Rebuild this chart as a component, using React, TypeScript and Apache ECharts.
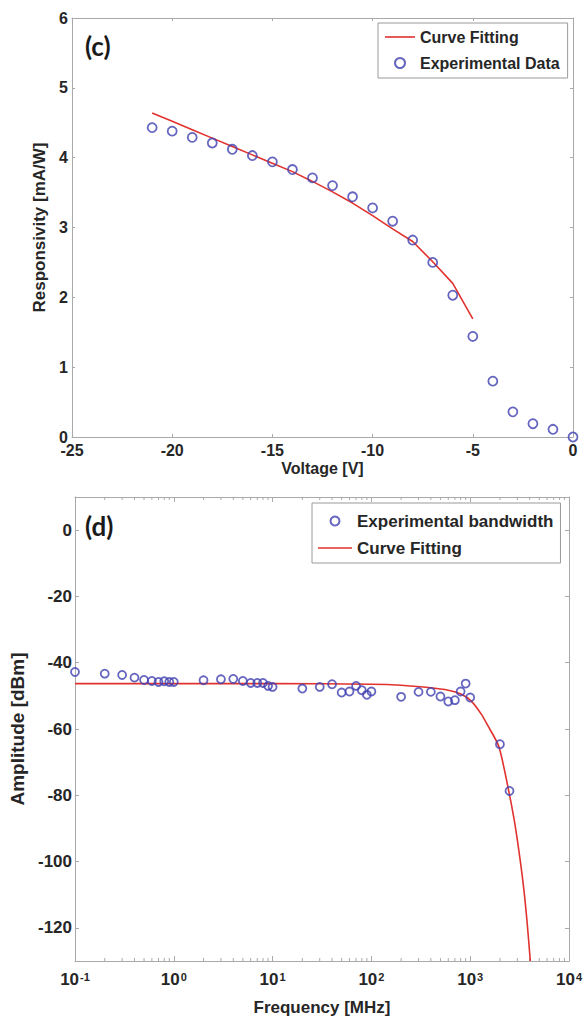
import React, { useEffect, useRef } from "react";
import * as echarts from "echarts";

// ---- Panel (c): responsivity vs voltage ----
const voltage = [-21, -20, -19, -18, -17, -16, -15, -14, -13, -12, -11, -10, -9, -8, -7, -6, -5, -4, -3, -2, -1, 0];
const responsivity = [4.43, 4.38, 4.29, 4.21, 4.12, 4.03, 3.94, 3.83, 3.71, 3.6, 3.44, 3.28, 3.09, 2.82, 2.5, 2.03, 1.44, 0.8, 0.36, 0.19, 0.11, 0.0];
const fitVoltage = [-21, -20, -19, -18, -17, -16, -15, -14, -13, -12, -11, -10, -9, -8, -7, -6, -5];
const fitResponsivity = [4.64, 4.52, 4.4, 4.28, 4.16, 4.04, 3.92, 3.8, 3.66, 3.51, 3.35, 3.17, 2.98, 2.8, 2.51, 2.2, 1.69];

// ---- Panel (d): amplitude vs frequency ----
const frequency = [0.1, 0.2, 0.3, 0.4, 0.5, 0.6, 0.7, 0.8, 0.9, 1, 2, 3, 4, 5, 6, 7, 8, 9, 10, 20, 30, 40, 50, 60, 70, 80, 90, 100, 200, 300, 400, 500, 600, 700, 800, 900, 1000, 2000, 2500];
const amplitude = [-42.8, -43.3, -43.7, -44.5, -45.2, -45.5, -45.8, -45.6, -45.8, -45.8, -45.3, -45.0, -44.9, -45.5, -46.1, -46.1, -46.1, -47.0, -47.3, -47.8, -47.3, -46.5, -49.0, -48.7, -47.0, -48.3, -49.7, -48.7, -50.3, -48.8, -48.8, -50.2, -51.7, -51.3, -48.7, -46.3, -50.5, -64.6, -78.7];
const fitFrequency = [0.1, 1, 10, 100, 200, 376, 600, 813, 1020, 1295, 1510, 1950, 2460, 2806, 3150, 3480, 3760, 4060];
const fitAmplitude = [-46.3, -46.3, -46.3, -46.5, -46.8, -47.5, -48.3, -49.5, -51.5, -55.5, -59.0, -65.3, -78.8, -87.9, -97.9, -108, -118, -130];

// axis tick labels
const ampTicks = [-120, -100, -80, -60, -40, -20, 0];
const freqDecades = [0.1, 1, 10, 100, 1000, 10000];
const freqMinorTicks = [0.2, 0.3, 0.4, 0.5, 0.6, 0.7, 0.8, 0.9, 2, 3, 4, 5, 6, 7, 8, 9, 20, 30, 40, 50, 60, 70, 80, 90, 200, 300, 400, 500, 600, 700, 800, 900, 2000, 3000, 4000, 5000, 6000, 7000, 8000, 9000];

const AXIS_GRAY = "#a9a9a9";
const TEXT = "#262626";
const RED = "#e0322e";
const BLUE = "#4040b0";
const FONT = "Liberation Sans";

export default function App() {
  const ref = useRef<HTMLDivElement>(null);

  useEffect(() => {
    document.body.style.margin = "0";
    if (!ref.current) return;
    const chart = echarts.init(ref.current, undefined, { renderer: "svg" });

    const tickStyle = { lineStyle: { color: AXIS_GRAY, width: 1 } };
    const lineStyle = { lineStyle: { color: AXIS_GRAY, width: 1 } };
    const labelBase = { fontFamily: FONT, fontWeight: "bold" as const, color: TEXT };

    const option: any = {
      animation: false,
      backgroundColor: "#ffffff",
      textStyle: { fontFamily: FONT },
      grid: [
        { left: 72, top: 18, right: 12, bottom: 584, containLabel: false },
        { left: 75, top: 497, right: 13, bottom: 60, containLabel: false },
      ],
      xAxis: [
        {
          type: "value", gridIndex: 0, position: "bottom", min: -25, max: 0, interval: 5,
          axisLine: { show: true, onZero: false, ...lineStyle },
          axisTick: { show: true, inside: true, length: 3, ...tickStyle },
          axisLabel: { ...labelBase, fontSize: 16, margin: 5 },
          splitLine: { show: false },
          name: "Voltage [V]", nameLocation: "middle", nameGap: 23,
          nameTextStyle: { ...labelBase, fontSize: 16 },
        },
        {
          type: "value", gridIndex: 0, position: "top", min: -25, max: 0, interval: 5,
          axisLine: { show: true, onZero: false, ...lineStyle },
          axisTick: { show: true, inside: true, length: 3, ...tickStyle },
          axisLabel: { show: false },
          splitLine: { show: false },
        },
        {
          type: "log", logBase: 10, gridIndex: 1, position: "bottom", min: 0.1, max: 10000,
          axisLine: { show: true, onZero: false, ...lineStyle },
          axisTick: { show: true, inside: true, length: 5, customValues: freqDecades, ...tickStyle },
          axisLabel: {
            ...labelBase, fontSize: 17, margin: 10, customValues: freqDecades,
            formatter: (v: number) => `10{sup|${Math.round(Math.log10(v))}}`,
            rich: { sup: { ...labelBase, fontSize: 11, verticalAlign: "top", lineHeight: 11, padding: [0, 0, 16, 1] } },
          },
          splitLine: { show: false },
          minorTick: { show: false },
          name: "Frequency [MHz]", nameLocation: "middle", nameGap: 36,
          nameTextStyle: { ...labelBase, fontSize: 17 },
        },
        {
          type: "log", logBase: 10, gridIndex: 1, position: "top", min: 0.1, max: 10000,
          axisLine: { show: true, onZero: false, ...lineStyle },
          axisTick: { show: true, inside: true, length: 5, customValues: freqDecades, ...tickStyle },
          axisLabel: { show: false },
          splitLine: { show: false },
        },
      ],
      yAxis: [
        {
          type: "value", gridIndex: 0, position: "left", min: 0, max: 6, interval: 1,
          axisLine: { show: true, onZero: false, ...lineStyle },
          axisTick: { show: true, inside: true, length: 3, ...tickStyle },
          axisLabel: { ...labelBase, fontSize: 16, margin: 4 },
          splitLine: { show: false },
          name: "Responsivity [mA/W]", nameLocation: "middle", nameGap: 23,
          nameTextStyle: { ...labelBase, fontSize: 17 },
        },
        {
          type: "value", gridIndex: 0, position: "right", min: 0, max: 6, interval: 1,
          axisLine: { show: true, onZero: false, ...lineStyle },
          axisTick: { show: true, inside: true, length: 3, ...tickStyle },
          axisLabel: { show: false },
          splitLine: { show: false },
        },
        {
          type: "value", gridIndex: 1, position: "left", min: -130, max: 10,
          axisLine: { show: true, onZero: false, ...lineStyle },
          axisTick: { show: true, inside: true, length: 4, customValues: ampTicks, ...tickStyle },
          axisLabel: { ...labelBase, fontSize: 17, margin: 3, customValues: ampTicks },
          splitLine: { show: false },
          name: "Amplitude [dBm]", nameLocation: "middle", nameGap: 42,
          nameTextStyle: { ...labelBase, fontSize: 19 },
        },
        {
          type: "value", gridIndex: 1, position: "right", min: -130, max: 10,
          axisLine: { show: true, onZero: false, ...lineStyle },
          axisTick: { show: true, inside: true, length: 4, customValues: ampTicks, ...tickStyle },
          axisLabel: { show: false },
          splitLine: { show: false },
        },
      ],
      legend: [
        {
          data: [
            { name: "Curve Fitting", icon: "path://M0,0H30V1.6H0Z" },
            { name: "Experimental Data" },
          ],
          orient: "vertical", left: 378, top: 23,
          padding: [6, 8, 7, 7], itemGap: 10, itemWidth: 30, itemHeight: 10,
          borderColor: "#9a9a9a", borderWidth: 1, backgroundColor: "#fff",
          selectedMode: false,
          textStyle: { ...labelBase, fontSize: 16, lineHeight: 16 },
        },
        {
          data: [
            { name: "Experimental bandwidth" },
            { name: "Curve Fitting (d)", icon: "path://M0,0H34V1.6H0Z" },
          ],
          orient: "vertical", left: 312, top: 503,
          padding: [9, 7, 6, 6], itemGap: 9, itemWidth: 34, itemHeight: 9,
          borderColor: "#9a9a9a", borderWidth: 1, backgroundColor: "#fff",
          selectedMode: false,
          formatter: (n: string) => n.replace(" (d)", ""),
          textStyle: { ...labelBase, fontSize: 17, lineHeight: 18 },
        },
      ],
      graphic: [
        { type: "text", left: 85, top: 33, style: { text: "(c)", fontFamily: "Lato", fontWeight: "bold", fontSize: 26, fill: "#1a1a1a" } },
        { type: "text", left: 85, top: 513, style: { text: "(d)", fontFamily: "Lato", fontWeight: "bold", fontSize: 26, fill: "#1a1a1a" } },
      ],
      series: [
        {
          name: "Curve Fitting", type: "line", xAxisIndex: 0, yAxisIndex: 0,
          data: fitVoltage.map((v, i) => [v, fitResponsivity[i]]),
          symbol: "none", lineStyle: { color: RED, width: 1.6 }, itemStyle: { color: RED }, z: 3,
        },
        {
          name: "Experimental Data", type: "scatter", xAxisIndex: 0, yAxisIndex: 0,
          data: voltage.map((v, i) => [v, responsivity[i]]),
          symbol: "circle", symbolSize: 9,
          itemStyle: { color: "rgba(0,0,0,0)", borderColor: BLUE, borderWidth: 1.8 }, z: 4,
        },
        {
          name: "Curve Fitting (d)", type: "line", xAxisIndex: 2, yAxisIndex: 2,
          data: fitFrequency.map((f, i) => [f, fitAmplitude[i]]),
          symbol: "none", smooth: 0.25,
          lineStyle: { color: RED, width: 1.6 }, itemStyle: { color: RED }, z: 3,
        },
        {
          name: "Experimental bandwidth", type: "scatter", xAxisIndex: 2, yAxisIndex: 2,
          data: frequency.map((f, i) => [f, amplitude[i]]),
          symbol: "circle", symbolSize: 8,
          itemStyle: { color: "rgba(0,0,0,0)", borderColor: BLUE, borderWidth: 1.8 }, z: 4,
        },
        {
          type: "custom", xAxisIndex: 2, yAxisIndex: 2, silent: true, clip: false,
          data: freqMinorTicks.map((f) => [f, -130]),
          encode: { x: 0, y: 1 },
          renderItem: (_p: any, api: any) => {
            const v = api.value(0);
            const b = api.coord([v, -130]);
            const t = api.coord([v, 10]);
            return {
              type: "group",
              children: [
                { type: "line", shape: { x1: b[0], y1: b[1], x2: b[0], y2: b[1] - 3 }, style: { stroke: AXIS_GRAY, lineWidth: 1 } },
                { type: "line", shape: { x1: t[0], y1: t[1], x2: t[0], y2: t[1] + 3 }, style: { stroke: AXIS_GRAY, lineWidth: 1 } },
              ],
            };
          },
          z: 2,
        },
      ],
    };

    chart.setOption(option);
    return () => chart.dispose();
  }, []);

  return <div ref={ref} style={{ width: 585, height: 1021 }} />;
}
